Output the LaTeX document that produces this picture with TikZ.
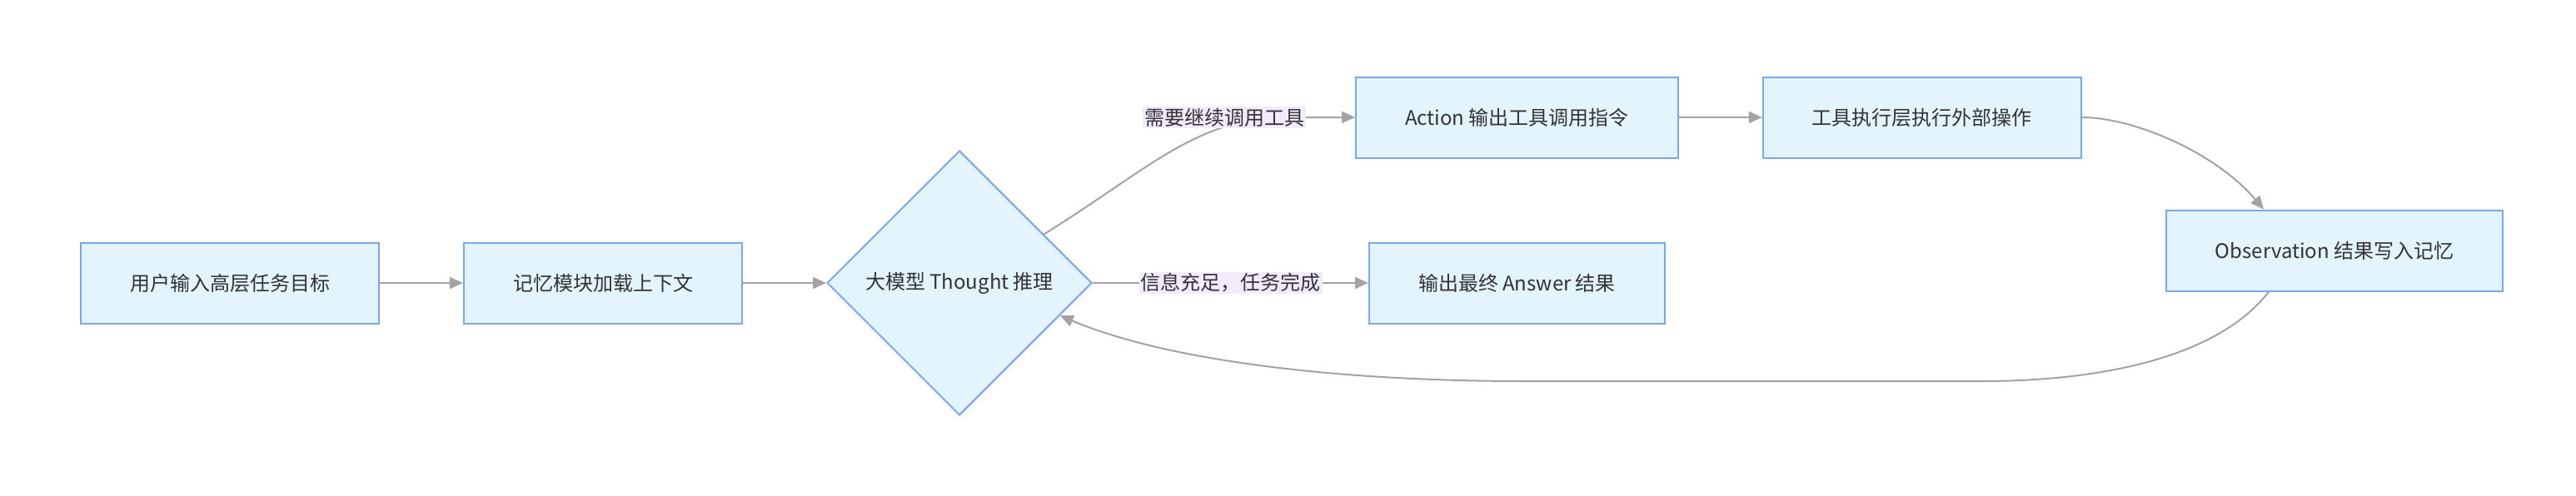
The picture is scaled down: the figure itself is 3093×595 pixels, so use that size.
\documentclass[tikz,border=0pt]{standalone}
\usepackage{fontspec}
\setmainfont{Noto Sans CJK SC}
\usepackage{xcolor}
\usepackage{tikz}
\usetikzlibrary{arrows.meta}
\usetikzlibrary{positioning}
\usetikzlibrary{shapes.geometric}

\definecolor{boxfill}{HTML}{E3F4FD}
\definecolor{boxline}{HTML}{7AA6F7}
\definecolor{edgegray}{HTML}{A3A3A3}
\definecolor{lblfill}{HTML}{F2EAFD}
\definecolor{txt}{HTML}{333333}

\begin{document}
\begin{tikzpicture}[x=1pt, y=1pt,
	font=\fontsize{24}{28}\selectfont, text=txt,
	stepbox/.style={draw=boxline, line width=2pt, fill=boxfill, minimum height=97pt, inner xsep=59pt},
	choice/.style={diamond, aspect=1, draw=boxline, line width=2pt, fill=boxfill, minimum width=318pt, minimum height=318pt, inner sep=0pt},
	edge/.style={draw=edgegray, line width=2pt, -{Triangle[length=16pt,width=14pt]}},
	lbl/.style={fill=lblfill, inner sep=2pt},
	node distance=100pt]
	 \path[use as bounding box, fill=white] (0,0) rectangle (3093,-595);
	 \node[stepbox] (user) at (276,-340) {用户输入高层任务目标};
	 \node[stepbox, right=of user] (mem) {记忆模块加载上下文};
	 \node[choice, right=of mem] (think) {大模型 Thought 推理};
	 \node[stepbox, right=331pt of think] (ans) {输出最终 Answer 结果};
	 \node[stepbox, above=of ans] (act) {Action 输出工具调用指令};
	 \node[stepbox, right=of act] (tool) {工具执行层执行外部操作};
	 \node[stepbox, below right=61pt and 100pt of tool] (obs) {Observation 结果写入记忆};
	 \coordinate (yes) at ([xshift=-157pt]act.west);
	 \coordinate (yesend) at ([xshift=-80pt]act.west);
	 \coordinate (backr) at (2380,-458);
	 \coordinate (backl) at (1830,-458);
	 \draw[edge] (user) -- (mem);
	 \draw[edge] (mem) -- (think);
	 \draw[edge] (think) -- (ans) node[lbl, midway] {信息充足，任务完成};
	 \draw[edge] (think.30) .. controls +(130,81) and +(-110,0) .. (yesend) -- (act);
	 \node[lbl] at (yes) {需要继续调用工具};
	 \draw[edge] (act) -- (tool);
	 \draw[edge] (tool.east) .. controls +(60,0) and +(-60,70) .. ([xshift=-85pt]obs.north);
	 \draw[edge] ([xshift=-79pt]obs.south) .. controls +(-70,-90) and +(110,0) .. (backr) -- (backl) .. controls +(-220,0) and +(130,-55) .. (think.342);
	 \end{tikzpicture}
\end{document}
